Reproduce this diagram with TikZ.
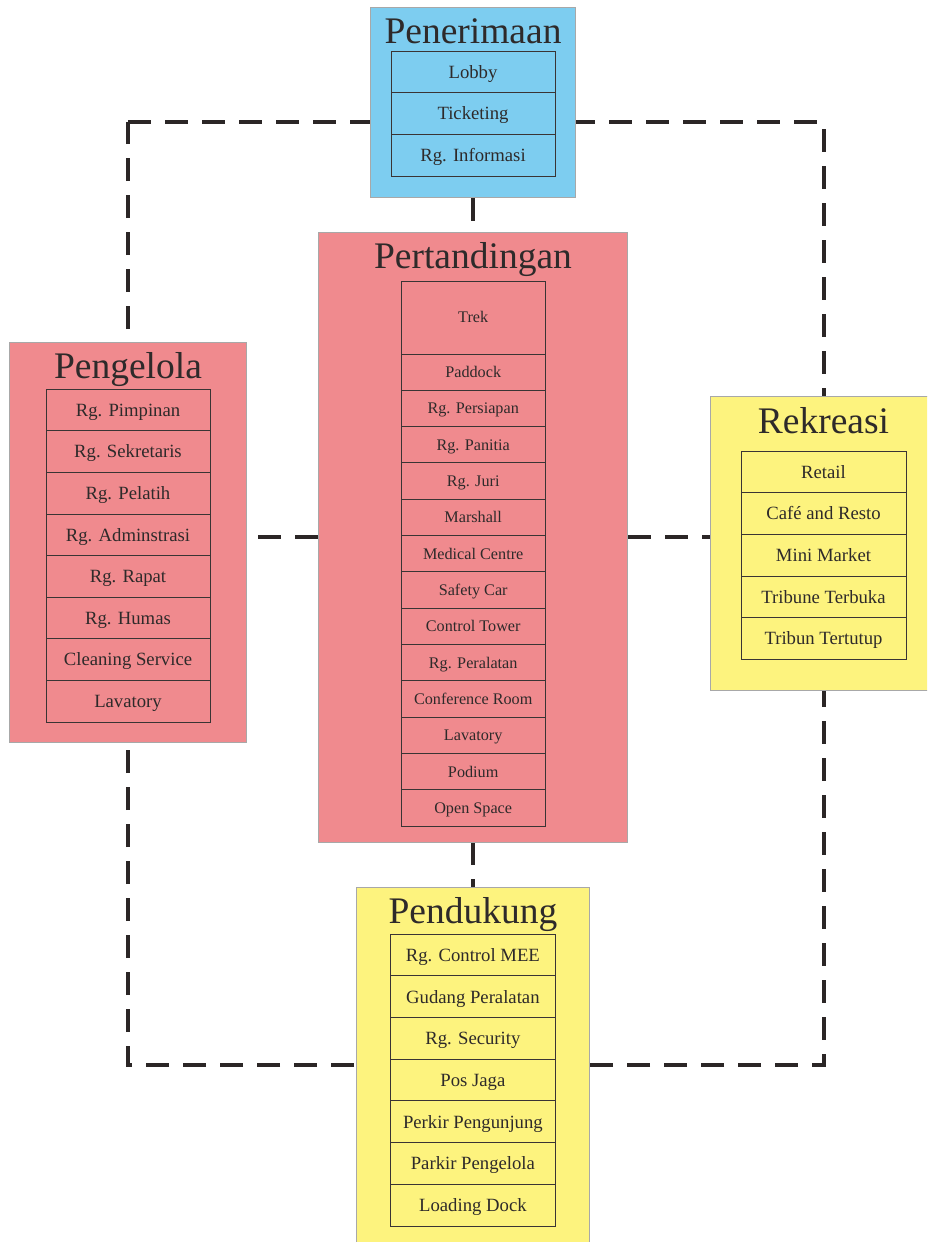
\documentclass[tikz,border=0pt]{standalone}
\usepackage{fontspec}
\setmainfont{Liberation Serif}
\pgfdeclarelayer{bg}
\pgfsetlayers{bg,main}
\definecolor{cblue}{HTML}{7DCDF0}
\definecolor{cpink}{HTML}{F08A8E}
\definecolor{cyell}{HTML}{FDF37E}
\definecolor{boxedge}{HTML}{A8A8A8}
\definecolor{rowedge}{HTML}{3A3434}
\definecolor{txt}{HTML}{2E2A2A}
\definecolor{linec}{HTML}{2B2626}
\tikzset{
  grp/.style={draw=boxedge, line width=0.8pt, inner sep=0pt, rectangle},
  row/.style={draw=rowedge, line width=1pt, inner sep=0pt, rectangle, text=txt,
     font=\fontsize{18.7}{20}\selectfont, text height=12.4pt, text depth=0pt},
  srow/.style={row, font=\fontsize{16.2}{18}\selectfont, text height=10.7pt},
  ttl/.style={anchor=base, inner sep=0pt, text=txt, font=\fontsize{37.5}{40}\selectfont},
  link/.style={draw=linec, line width=4pt, dash pattern=on 23pt off 14pt}
}
\begin{document}
\begin{tikzpicture}[x=1pt,y=-1pt]
\useasboundingbox (0,0) rectangle (927,1242);
\clip (0,0) rectangle (927,1242);
% group boxes
\node[grp, fill=cblue, minimum width=204.3pt, minimum height=190.4pt] (pen) at (473,102.5) {};
\node[grp, fill=cpink, minimum width=309.4pt, minimum height=610pt] (per) at (473,537) {};
\node[grp, fill=cpink, minimum width=237.4pt, minimum height=399.7pt] (peng) at (128,542.15) {};
\node[grp, fill=cyell, minimum width=227pt, minimum height=294pt] (rek) at (823.5,543) {};
\node[grp, fill=cyell, minimum width=232.6pt, minimum height=362.7pt] (pend) at (473,1068.65) {};
% titles
\node[ttl] (penT) at (473,43) {Penerimaan};
\node[ttl] (perT) at (473,268) {Pertandingan};
\node[ttl] (pengT) at (128,378) {Pengelola};
\node[ttl] (rekT) at (823.5,433) {Rekreasi};
\node[ttl] (pendT) at (473,923) {Pendukung};
% Penerimaan rows
\foreach \t [count=\i] in {Lobby,Ticketing,Rg. Informasi}
  \node[row, minimum width=164pt, minimum height=41.6pt] (penR\i) at (473,{51.3+41.6*(\i-0.5)}) {\t};
% Pertandingan rows
\node[srow, minimum width=143.7pt, minimum height=73pt] (perR0) at (473.2,317.5) {Trek};
\foreach \t [count=\i] in {Paddock,Rg. Persiapan,Rg. Panitia,Rg. Juri,Marshall,Medical Centre,Safety Car,Control Tower,Rg. Peralatan,Conference Room,Lavatory,Podium,Open Space}
  \node[srow, minimum width=143.7pt, minimum height=36.33pt] (perR\i) at (473.2,{354+36.33*(\i-0.5)}) {\t};
% Pengelola rows
\foreach \t [count=\i] in {Rg. Pimpinan,Rg. Sekretaris,Rg. Pelatih,Rg. Adminstrasi,Rg. Rapat,Rg. Humas,Cleaning Service,Lavatory}
  \node[row, minimum width=164pt, minimum height=41.6pt] (pengR\i) at (128,{389.3+41.6*(\i-0.5)}) {\t};
% Rekreasi rows
\foreach \t [count=\i] in {Retail,Café and Resto,Mini Market,Tribune Terbuka,Tribun Tertutup}
  \node[row, minimum width=165pt, minimum height=41.67pt] (rekR\i) at (823.5,{451+41.67*(\i-0.5)}) {\t};
% Pendukung rows
\foreach \t [count=\i] in {Rg. Control MEE,Gudang Peralatan,Rg. Security,Pos Jaga,Perkir Pengunjung,Parkir Pengelola,Loading Dock}
  \node[row, minimum width=164.3pt, minimum height=41.67pt] (pendR\i) at (472.9,{934.3+41.67*(\i-0.5)}) {\t};
% connectors
\coordinate (tl) at (128,122);
\coordinate (tr) at (824,122);
\coordinate (br) at (824,1065);
\coordinate (bl) at (128,1065);
\begin{pgfonlayer}{bg}
  \draw[link] (tl) -- (tr) -- (br) -- (bl) -- cycle;
  \draw[link] (pen.south) -- (per.north);
  \draw[link] (per.south) -- (pend.north);
  \draw[link] (per.west) -- (peng.east |- per.west);
  \draw[link] (per.east) -- (rek.west |- per.east);
\end{pgfonlayer}
\end{tikzpicture}
\end{document}
